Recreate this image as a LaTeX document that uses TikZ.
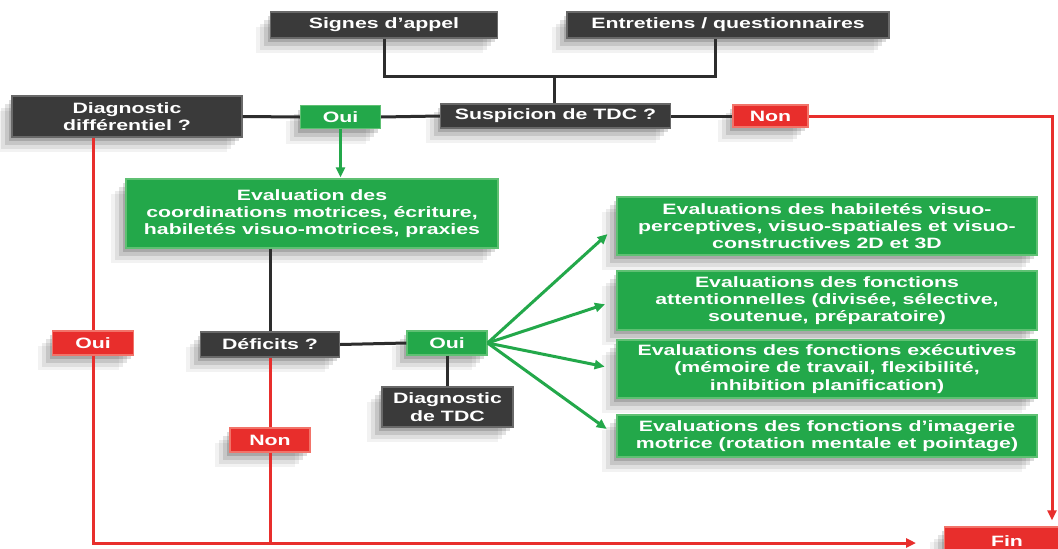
\documentclass[tikz,border=0pt]{standalone}
\usepackage{fontspec}
\setmainfont[FakeStretch=1.42]{Liberation Sans}
\usetikzlibrary{arrows.meta,shadows}
\definecolor{dk}{RGB}{58,58,58}
\definecolor{dkedge}{RGB}{105,105,105}
\definecolor{gr}{RGB}{35,168,74}
\definecolor{gredge}{RGB}{95,192,115}
\definecolor{rd}{RGB}{232,46,44}
\definecolor{rdedge}{RGB}{242,115,105}
\definecolor{ln}{RGB}{45,45,45}
\tikzset{
  shad/.style={
    drop shadow={shadow xshift=-3pt, shadow yshift=-4pt, opacity=.14, fill=black},
    drop shadow={shadow xshift=-7pt, shadow yshift=-8pt, opacity=.11, fill=black},
    drop shadow={shadow xshift=-11pt, shadow yshift=-12pt, opacity=.08, fill=black},
    drop shadow={shadow xshift=-15pt, shadow yshift=-15pt, opacity=.05, fill=black}},
  base/.style={font=\bfseries\fontsize{15}{17.3}\selectfont, text=white, align=center,
    inner sep=0pt, line width=1.2pt, shad},
  darkbox/.style={base, fill=dk, draw=dkedge},
  greenbox/.style={base, fill=gr, draw=gredge},
  redbox/.style={base, fill=rd, draw=rdedge},
  sz/.style 2 args={minimum width=#1pt, minimum height=#2pt},
  blk/.style={draw=ln, line width=3pt},
  redl/.style={draw=rd, line width=3pt},
  grl/.style={draw=gr, line width=3pt},
  tipa/.style={-{Triangle[length=10pt,width=9pt]}}
}
\begin{document}
\begin{tikzpicture}[x=1pt,y=-1pt]
\useasboundingbox (0,0) rectangle (1058,549);
\fill[white] (0,0) rectangle (1058,549);
\clip (0,0) rectangle (1058,549);

\node[darkbox, sz={227}{26}] (sig) at (384,25) {Signes d’appel};
\node[darkbox, sz={322}{26}] (ent) at (728,25) {Entretiens / questionnaires};
\node[darkbox, sz={230}{24}] (sus) at (555.5,116) {Suspicion de TDC ?};
\node[redbox, sz={75}{22}] (non1) at (770.5,116) {Non};
\node[greenbox, sz={80}{23}] (oui1) at (340.5,117) {Oui};
\node[darkbox, sz={230}{41}] (diag) at (127,116.5) {Diagnostic\\différentiel ?};
\node[greenbox, sz={372}{69}] (eval) at (312,213.5) {Evaluation des\\coordinations motrices, écriture,\\habiletés visuo-motrices, praxies};
\node[darkbox, sz={139}{25}] (def) at (270,344.5) {Déficits ?};
\node[greenbox, sz={80}{24}] (oui2) at (447,343) {Oui};
\node[darkbox, sz={131}{40}] (dtdc) at (447.5,407) {Diagnostic\\de TDC};
\node[redbox, sz={81}{24}] (oui3) at (93,343) {Oui};
\node[redbox, sz={80}{24}] (non2) at (270,440) {Non};
\node[greenbox, sz={420}{58}] (r1) at (827,226) {Evaluations des habiletés visuo-\\perceptives, visuo-spatiales et visuo-\\constructives 2D et 3D};
\node[greenbox, sz={420}{59}] (r2) at (827,300.5) {Evaluations des fonctions\\attentionnelles (divisée, sélective,\\soutenue, préparatoire)};
\node[greenbox, sz={420}{58}] (r3) at (827,369) {Evaluations des fonctions exécutives\\(mémoire de travail, flexibilité,\\inhibition planification)};
\node[greenbox, sz={420}{42}] (r4) at (827,436) {Evaluations des fonctions d’imagerie\\motrice (rotation mentale et pointage)};
\node[redbox, sz={125}{28}] (fin) at (1007,541) {Fin};

\coordinate (j) at (554,76);
\coordinate (rc) at (1052,116);
\coordinate (ftip) at (916,543);
\draw[blk] (sig.south) |- (j) -| ([xshift=-13pt]ent.south);
\draw[blk] (j) -- (j |- sus.north);
\draw[blk] (diag.east) -- (oui1.west);
\draw[blk] (oui1.east) -- (sus.west);
\draw[blk] (sus.east) -- (non1.west);
\draw[redl, tipa, shorten >=6pt] (non1.east) -- (rc) -- (rc |- fin.north);
\draw[grl, tipa, shorten >=1pt] (oui1.south) -- (oui1.south |- eval.north);
\draw[blk] (def.north |- eval.south) -- (def.north);
\draw[blk] (def.east) -- (oui2.west);
\draw[blk] (oui2.south) -- (oui2.south |- dtdc.north);
\foreach \r in {r1,r2,r3,r4}
  \draw[grl, tipa, shorten >=12pt] (oui2.east) -- (\r.west);
\draw[redl] (oui3.north |- diag.south) -- (oui3.north);
\draw[redl, tipa] (oui3.south) |- (ftip);
\draw[redl] (def.south) -- (non2.north);
\draw[redl] (non2.south) -- (non2.south |- ftip);
\end{tikzpicture}
\end{document}
